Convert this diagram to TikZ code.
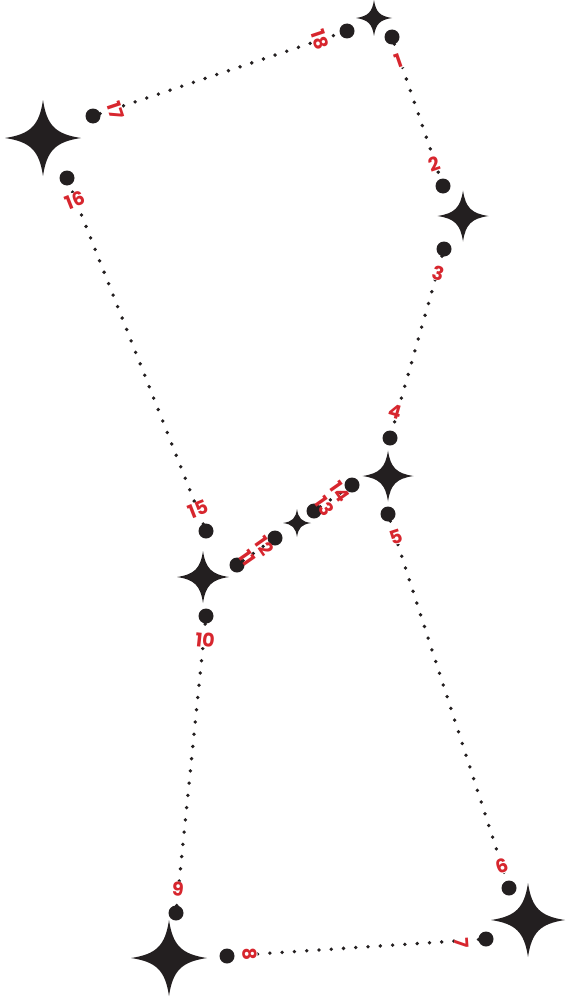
\documentclass[tikz,border=0pt]{standalone}
\usepackage{fontspec}
\newfontfamily\labfont{Poppins}
\definecolor{ink}{HTML}{231F20}
\definecolor{numred}{HTML}{D7262E}
\tikzset{
  bigdot/.style={circle,fill=ink,minimum size=15pt,inner sep=0pt,outer sep=0pt},
  dotline/.style={ink,line width=3.8pt,line cap=round,dash pattern=on 0pt off 12.3pt},
  numlabel/.style={text=numred,font=\labfont\bfseries\fontsize{19}{19}\selectfont,inner sep=0.3pt,fill=white},
  sparkfill/.style={fill=ink}
}
\newcommand\sparkle[3]{%
  \begin{scope}[shift={(#1,#2)},scale=#3]
    \fill[sparkfill] (0,-1) .. controls (0.1,-0.33) and (0.33,-0.1) .. (1,0)
      .. controls (0.33,0.1) and (0.1,0.33) .. (0,1)
      .. controls (-0.1,0.33) and (-0.33,0.1) .. (-1,0)
      .. controls (-0.33,-0.1) and (-0.1,-0.33) .. cycle;
  \end{scope}}
\begin{document}
\begin{tikzpicture}[x=1pt,y=-1pt]
\useasboundingbox (0,0) rectangle (565,998);
% sparkles
\sparkle{374}{18}{18}
\sparkle{43}{138}{38}
\sparkle{463}{216}{25.5}
\sparkle{388}{476}{25.5}
\sparkle{297}{523}{14}
\sparkle{203}{577}{26}
\sparkle{169}{958}{38}
\sparkle{528}{920}{37}
% dots
\node[bigdot] (d1) at (392,37) {};
\node[bigdot] (d2) at (443,186) {};
\node[bigdot] (d3) at (444,249) {};
\node[bigdot] (d4) at (390,438) {};
\node[bigdot] (d5) at (388,514) {};
\node[bigdot] (d6) at (509,888) {};
\node[bigdot] (d7) at (486,939) {};
\node[bigdot] (d8) at (227,956) {};
\node[bigdot] (d9) at (176,913) {};
\node[bigdot] (d10) at (206,616) {};
\node[bigdot] (d11) at (237,565) {};
\node[bigdot] (d12) at (275,538) {};
\node[bigdot] (d13) at (314,511) {};
\node[bigdot] (d14) at (352,485) {};
\node[bigdot] (d15) at (206,531) {};
\node[bigdot] (d16) at (67,178) {};
\node[bigdot] (d17) at (93,116) {};
\node[bigdot] (d18) at (347,31) {};
% connectors
\draw[dotline] (d1) -- (d2);
\draw[dotline] (d3) -- (d4);
\draw[dotline] (d5) -- (d6);
\draw[dotline] (d7) -- (d8);
\draw[dotline] (d9) -- (d10);
\draw[dotline] (d11) -- (d12);
\draw[dotline] (d13) -- (d14);
\draw[dotline] (d15) -- (d16);
\draw[dotline] (d17) -- (d18);
% labels
\node[numlabel,rotate=19] (l1) at (399,61) {1};
\node[numlabel,rotate=19] (l2) at (434,164) {2};
\node[numlabel,rotate=-16] (l3) at (438,273) {3};
\node[numlabel,rotate=-16] (l4) at (395,412) {4};
\node[numlabel,rotate=18] (l5) at (396,537) {5};
\node[numlabel,rotate=18] (l6) at (502,866) {6};
\node[numlabel,rotate=-86] (l7) at (462,943) {7};
\node[numlabel,rotate=-86] (l8) at (250,954) {8};
\node[numlabel,rotate=-6] (l9) at (178,889) {9};
\node[numlabel,rotate=-6] (l10) at (205,640) {10};
\node[numlabel,rotate=-55,fill=none] (l11) at (247,558) {11};
\node[numlabel,rotate=-55,fill=none] (l12) at (264,546) {12};
\node[numlabel,rotate=-55,fill=none] (l13) at (325,506) {13};
\node[numlabel,rotate=-55,fill=none] (l14) at (340,492) {14};
\node[numlabel,rotate=21.5] (l15) at (198,509) {15};
\node[numlabel,rotate=21.5] (l16) at (75,200) {16};
\node[numlabel,rotate=-71.5] (l17) at (116,111) {17};
\node[numlabel,rotate=-71.5] (l18) at (320,40) {18};
\end{tikzpicture}
\end{document}
